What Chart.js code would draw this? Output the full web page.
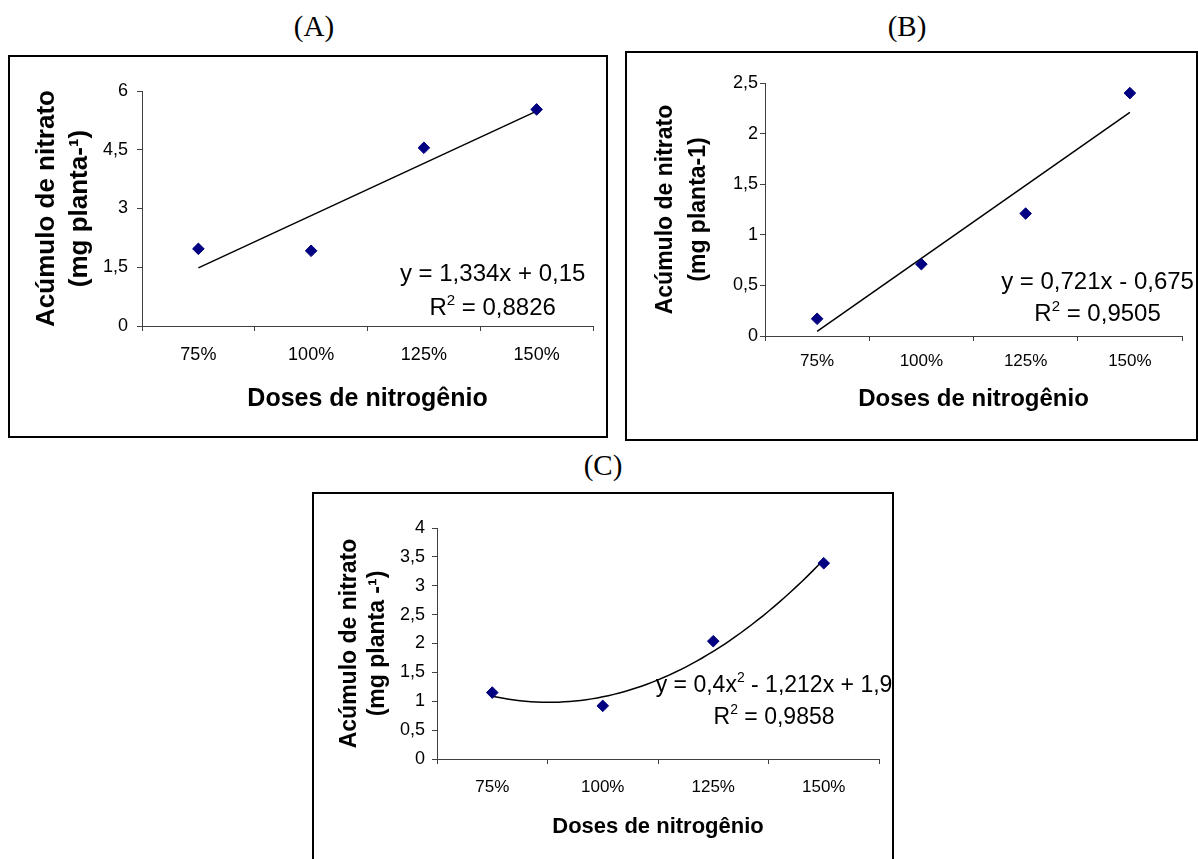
<!DOCTYPE html>
<html>
<head>
<meta charset="utf-8">
<title>Acúmulo de nitrato</title>
<script src="https://cdn.jsdelivr.net/npm/chart.js@4.4.1/dist/chart.umd.min.js"></script>
<style>
  html, body { margin: 0; padding: 0; background: #fff; width: 1198px; height: 859px; overflow: hidden; position: relative; }
  .frame { position: absolute; box-sizing: border-box; border: 2px solid #000; }
  canvas { position: absolute; }
  .tag { position: absolute; width: 100px; text-align: center; color: #000;
         font-family: 'Liberation Serif', 'Times New Roman', serif; font-size: 29px; line-height: 29px; }
</style>
</head>
<body>
<div class="tag" style="left:264px;top:12px">(A)</div>
<div class="tag" style="left:857px;top:12px">(B)</div>
<div class="tag" style="left:553px;top:451px">(C)</div>

<div class="frame" style="left:8px;top:55px;width:600px;height:383px"></div>
<div class="frame" style="left:625px;top:51px;width:573px;height:390px"></div>
<div class="frame" style="left:312px;top:492px;width:582px;height:400px"></div>

<canvas id="chartA" width="600" height="383" style="left:8px;top:55px"></canvas>
<canvas id="chartB" width="573" height="390" style="left:625px;top:51px"></canvas>
<canvas id="chartC" width="582" height="400" style="left:312px;top:492px"></canvas>

<script>
// Nitrogen doses (categories)
const doses = ['75%', '100%', '125%', '150%'];

// Nitrate accumulation per dose (mg planta-1)
const nitratoA = [1.97, 1.92, 4.55, 5.53];
const nitratoB = [0.17, 0.71, 1.21, 2.40];
const nitratoC = [1.15, 0.92, 2.04, 3.39];

// Y axis tick values
const yTicksA = [0, 1.5, 3, 4.5, 6];
const yTicksB = [0, 0.5, 1, 1.5, 2, 2.5];
const yTicksC = [0, 0.5, 1, 1.5, 2, 2.5, 3, 3.5, 4];

// Fitted trend coefficients, constant term first (x = dose index 1..4)
const trendA = [0.15, 1.334];
const trendB = [-0.675, 0.721];
const trendC = [1.9, -1.212, 0.4];

// Equation labels; {sup: ...} pieces are drawn as superscripts
const equationA = [['y = 1,334x + 0,15'], ['R', { sup: '2' }, ' = 0,8826']];
const equationB = [['y = 0,721x - 0,675'], ['R', { sup: '2' }, ' = 0,9505']];
const equationC = [['y = 0,4x', { sup: '2' }, ' - 1,212x + 1,9'], ['R', { sup: '2' }, ' = 0,9858']];

const SANS = "'Liberation Sans', Arial, sans-serif";
const AXIS = '#404040';
const MARK = '#000080';

const decimal = v => String(v).replace('.', ',');

function trendPoints(coef, steps) {
  const pts = [];
  for (let i = 0; i <= steps; i++) {
    const x = 1 + 3 * i / steps;
    const y = coef.reduce((s, c, k) => s + c * Math.pow(x, k), 0);
    pts.push({ x, y });
  }
  return pts;
}

// Draws the regression equation and R² inside the plot
const equationLabel = {
  id: 'equationLabel',
  afterDatasetsDraw(chart, args, opts) {
    const { ctx } = chart;
    const xs = chart.scales.xt, ys = chart.scales.y;
    const base = opts.size + 'px ' + SANS;
    const small = Math.round(opts.size * 0.62) + 'px ' + SANS;
    ctx.save();
    ctx.fillStyle = '#000';
    ctx.textAlign = 'left';
    ctx.textBaseline = 'alphabetic';
    opts.lines.forEach((parts, i) => {
      const widths = parts.map(p => {
        ctx.font = typeof p === 'string' ? base : small;
        return ctx.measureText(typeof p === 'string' ? p : p.sup).width;
      });
      const total = widths.reduce((a, b) => a + b, 0);
      let x = xs.getPixelForValue(opts.x) - total / 2;
      const baseline = ys.getPixelForValue(opts.y[i]) + opts.size * 0.358;
      parts.forEach((p, k) => {
        if (typeof p === 'string') {
          ctx.font = base;
          ctx.fillText(p, x, baseline);
        } else {
          ctx.font = small;
          ctx.fillText(p.sup, x, baseline - opts.size * 0.42);
        }
        x += widths[k];
      });
    });
    ctx.restore();
  }
};

function makeChart(id, c) {
  return new Chart(document.getElementById(id), {
    type: 'line',
    data: {
      labels: doses,
      datasets: [
        {
          data: c.values,
          showLine: false,
          pointStyle: 'rectRot',
          pointRadius: 5.8,
          pointBackgroundColor: MARK,
          pointBorderColor: MARK,
          pointBorderWidth: 1,
          order: 1
        },
        {
          data: trendPoints(c.trend, c.steps),
          xAxisID: 'xt',
          borderColor: '#000',
          borderWidth: 1.5,
          pointRadius: 0,
          fill: false,
          tension: 0,
          order: 2
        }
      ]
    },
    options: {
      responsive: false,
      animation: false,
      devicePixelRatio: 1,
      events: [],
      layout: { padding: c.padding },
      plugins: {
        legend: { display: false },
        tooltip: { enabled: false },
        equationLabel: c.equation
      },
      scales: {
        x: {
          type: 'category',
          offset: true,
          grid: { offset: true, drawOnChartArea: false, tickLength: 5, color: AXIS },
          border: { color: AXIS },
          ticks: { color: '#000', font: { family: SANS, size: c.xTickSize }, padding: c.xTickPad, maxRotation: 0 },
          title: {
            display: true, text: 'Doses de nitrogênio', color: '#000',
            font: { family: SANS, size: c.xTitleSize, weight: 'bold', lineHeight: 1.2 },
            padding: { top: 0, bottom: c.xTitlePad }
          },
          afterFit: s => { s.height = c.xHeight; }
        },
        xt: { type: 'linear', display: false, min: 0.5, max: 4.5 },
        y: {
          min: c.yTicks[0],
          max: c.yTicks[c.yTicks.length - 1],
          afterBuildTicks: s => { s.ticks = c.yTicks.map(v => ({ value: v })); },
          grid: { drawOnChartArea: false, tickLength: 5, color: AXIS },
          border: { color: AXIS },
          ticks: { color: '#000', font: { family: SANS, size: c.yTickSize }, padding: c.yTickPad, callback: v => decimal(v) },
          title: {
            display: true, text: c.yTitle, color: '#000',
            font: { family: SANS, size: c.yTitleSize, weight: 'bold', lineHeight: c.yTitleLH },
            padding: { top: c.yTitlePad, bottom: 0 }
          },
          afterFit: s => { s.width = c.yWidth; }
        }
      }
    },
    plugins: [equationLabel]
  });
}

makeChart('chartA', {
  values: nitratoA, yTicks: yTicksA, trend: trendA, steps: 1,
  padding: { left: 0, top: 36, right: 15, bottom: 0 },
  yWidth: 134, xHeight: 112,
  xTickSize: 18, xTickPad: 13, yTickSize: 18, yTickPad: 9,
  xTitleSize: 25, xTitlePad: 24,
  yTitle: ['Acúmulo de nitrato', '(mg planta-¹)'], yTitleSize: 26, yTitleLH: 1.24, yTitlePad: 23,
  equation: { lines: equationA, size: 24, x: 3.61, y: [1.38, 0.50] }
});

makeChart('chartB', {
  values: nitratoB, yTicks: yTicksB, trend: trendB, steps: 1,
  padding: { left: 0, top: 32, right: 16, bottom: 0 },
  yWidth: 140, xHeight: 105,
  xTickSize: 17, xTickPad: 10, yTickSize: 18, yTickPad: 2,
  xTitleSize: 24, xTitlePad: 27,
  yTitle: ['Acúmulo de nitrato', '(mg planta-1)'], yTitleSize: 23, yTitleLH: 1.43, yTitlePad: 24,
  equation: { lines: equationB, size: 24, x: 3.69, y: [0.551, 0.229] }
});

makeChart('chartC', {
  values: nitratoC, yTicks: yTicksC, trend: trendC, steps: 60,
  padding: { left: 0, top: 36, right: 15, bottom: 0 },
  yWidth: 125, xHeight: 133,
  xTickSize: 17, xTickPad: 13, yTickSize: 18, yTickPad: 7,
  xTitleSize: 22, xTitlePad: 52,
  yTitle: ['Acúmulo de nitrato', '(mg planta -¹)'], yTitleSize: 23, yTitleLH: 1.22, yTitlePad: 24,
  equation: { lines: equationC, size: 23, x: 3.55, y: [1.30, 0.753] }
});
</script>
</body>
</html>
